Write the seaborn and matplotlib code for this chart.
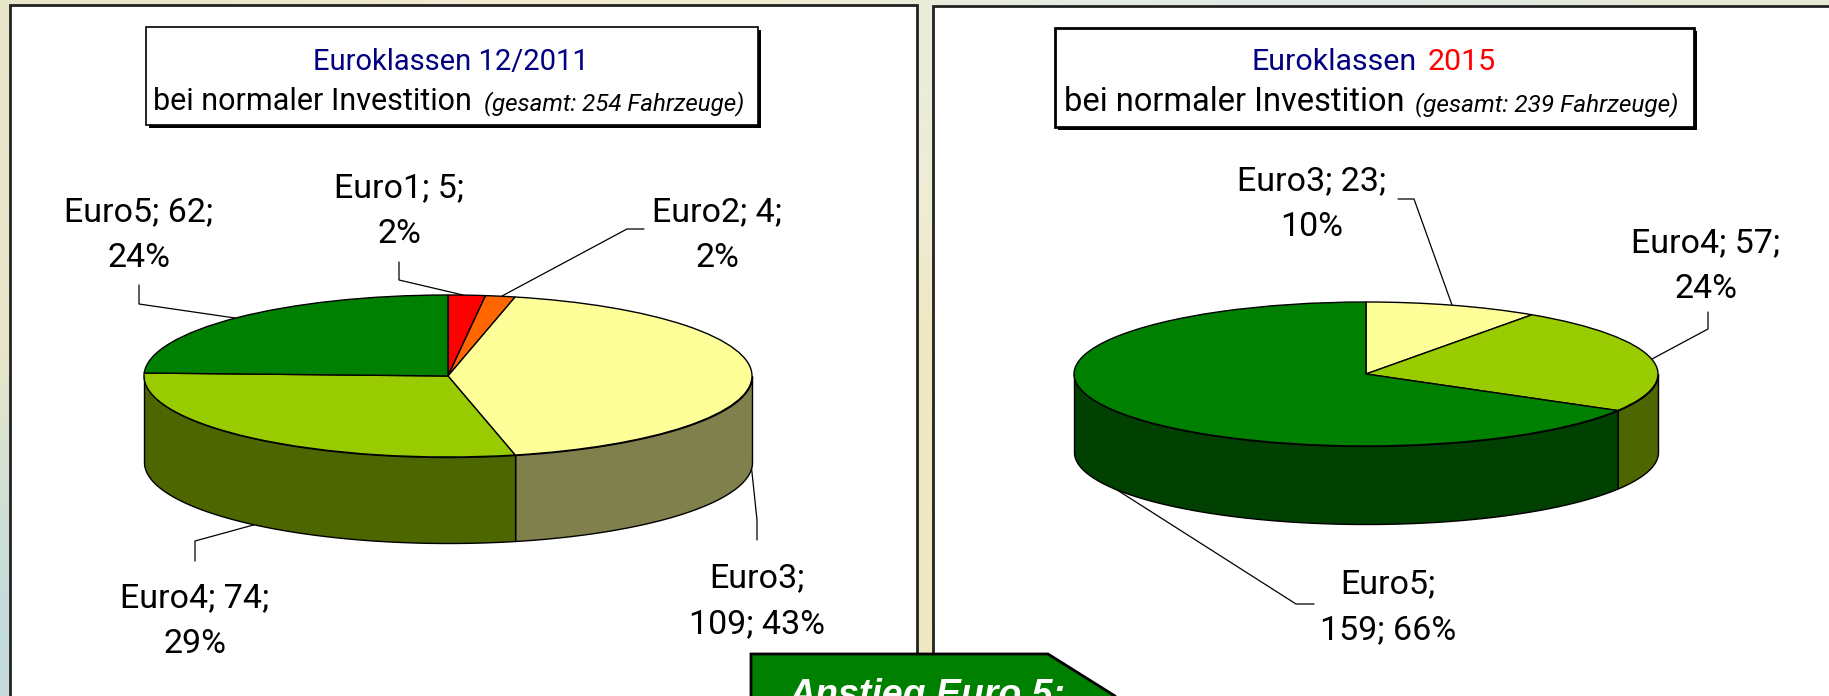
import numpy as np
import matplotlib
matplotlib.use('Agg')
import matplotlib.pyplot as plt
from matplotlib.patches import Rectangle, Polygon
import seaborn as sns

sns.set_theme(style="white")
plt.rcParams['font.family'] = ['Roboto', 'DejaVu Sans']

W, H = 1829, 696

# ---- data ----
names_2011 = ['Euro1', 'Euro2', 'Euro3', 'Euro4', 'Euro5']
values_2011 = [5, 4, 109, 74, 62]
percent_2011 = [2, 2, 43, 29, 24]
colors_2011 = ['#ff0000', '#ff6600', '#ffff99', '#99cc00', '#008000']
sides_2011 = ['#800000', '#803300', '#80804d', '#4d6600', '#004000']

names_2015 = ['Euro3', 'Euro4', 'Euro5']
values_2015 = [23, 57, 159]
percent_2015 = [10, 24, 66]
colors_2015 = ['#ffff99', '#99cc00', '#008000']
sides_2015 = ['#80804d', '#4d6600', '#004000']

# background tint, coarse grid (rows top to bottom, columns left to right)
bg_colors = [
    ['#e8e6c8', '#f2ead2', '#f0ecd0', '#e6ece4', '#dfe8e6', '#e6ead6'],
    ['#e8e6c8', '#f0e8c8', '#f0e8c4', '#eef0e0', '#e8ead8', '#e8e6c8'],
    ['#e8e6c8', '#f0e8c8', '#f0e8c0', '#f0e8c0', '#f0e8c0', '#f0e8c0'],
    ['#d2e0d4', '#f0e8c8', '#f0e8c0', '#f0e8c0', '#f0e8c0', '#f0e8c0'],
    ['#c4dcdc', '#f0e8c8', '#f0e8c0', '#f0e8c0', '#f0e8c0', '#f0e8c0'],
]

fig = plt.figure(figsize=(W / 100, H / 100), dpi=100)

# full figure axes in pixel units for panels, boxes, text and leaders
page = fig.add_axes([0, 0, 1, 1])
page.set_xlim(0, W)
page.set_ylim(H, 0)
page.axis('off')

rgb = np.array([[matplotlib.colors.to_rgb(c) for c in row] for row in bg_colors])
page.imshow(rgb, extent=(0, W, H, 0), aspect='auto', interpolation='bilinear', zorder=0)
page.set_xlim(0, W)
page.set_ylim(H, 0)

# white panels
page.add_patch(Rectangle((10, 5), 907, 700, fc='white', ec='#222222', lw=2, zorder=1))
page.add_patch(Rectangle((933, 6), 920, 700, fc='white', ec='#222222', lw=2, zorder=1))


def title_box(ax, x0, y0, x1, y1, lw):
    ax.add_patch(Rectangle((x0 + 3, y0 + 3), x1 - x0, y1 - y0, fc='black', ec='none', zorder=2))
    ax.add_patch(Rectangle((x0, y0), x1 - x0, y1 - y0, fc='white', ec='black', lw=lw, zorder=3))


def draw_pie(cx, cy, rx, ry, depth_px, values, colors, sides):
    depth = depth_px / ry
    ax = fig.add_axes([(cx - 1.05 * rx) / W, 1 - (cy + (1.05 + depth) * ry) / H,
                       2.1 * rx / W, (2.1 + depth) * ry / H])
    ax.patch.set_alpha(0)
    wedges, _ = ax.pie(values, colors=colors, startangle=90, counterclock=False,
                       wedgeprops=dict(edgecolor='black', linewidth=1, zorder=3))
    for w, side in zip(wedges, sides):
        t = np.radians(np.linspace(w.theta1, w.theta2, 720))
        t = t[np.sin(t) <= 0]
        if len(t) < 2:
            continue
        ax.fill_between(np.cos(t), np.sin(t), np.sin(t) - depth, color=side,
                        edgecolor='black', linewidth=1, zorder=2)
    ax.set_aspect('auto')
    ax.set_xlim(-1.05, 1.05)
    ax.set_ylim(-1.05 - depth, 1.05)
    ax.axis('off')


draw_pie(448, 376, 304, 81, 86, values_2011, colors_2011, sides_2011)
draw_pie(1366, 374, 292, 72, 78, values_2015, colors_2015, sides_2015)

# title boxes
title_box(page, 146, 27, 758, 125, 1.2)
title_box(page, 1055, 28, 1694, 127, 2)

navy = '#000080'
page.text(451, 62, 'Euroklassen 12/2011', color=navy, fontsize=21, ha='center', va='center', zorder=4)
page.text(472, 110, 'bei normaler Investition', color='black', fontsize=22, ha='right', va='baseline', zorder=4)
page.text(484, 110, '(gesamt: 254 Fahrzeuge)', color='black', fontsize=17.4, style='italic', ha='left', va='baseline', zorder=4)

page.text(1417, 62, 'Euroklassen', color=navy, fontsize=21.9, ha='right', va='center', zorder=4)
page.text(1428, 62, '2015', color='red', fontsize=21.9, ha='left', va='center', zorder=4)
page.text(1404, 111, 'bei normaler Investition', color='black', fontsize=23.5, ha='right', va='baseline', zorder=4)
page.text(1415, 111, '(gesamt: 239 Fahrzeuge)', color='black', fontsize=17.6, style='italic', ha='left', va='baseline', zorder=4)

# data labels
label_size = 24.5


def pie_label(x, y, name, val, pct, broken=False):
    txt = f'{name};\n{val}; {pct}%' if broken else f'{name}; {val};\n{pct}%'
    page.text(x, y, txt, fontsize=label_size, ha='center', va='center', color='black',
              linespacing=1.55, zorder=4)


pie_label(139, 235, names_2011[4], values_2011[4], percent_2011[4])
pie_label(399, 211, names_2011[0], values_2011[0], percent_2011[0])
pie_label(717, 235, names_2011[1], values_2011[1], percent_2011[1])
pie_label(757, 601, names_2011[2], values_2011[2], percent_2011[2], broken=True)
pie_label(195, 621, names_2011[3], values_2011[3], percent_2011[3])
pie_label(1312, 204, names_2015[0], values_2015[0], percent_2015[0])
pie_label(1706, 266, names_2015[1], values_2015[1], percent_2015[1])
pie_label(1388, 607, names_2015[2], values_2015[2], percent_2015[2], broken=True)

# leader lines
leaders = [
    [(399, 262), (399, 280), (463, 295)],
    [(644, 229), (627, 229), (502, 296)],
    [(139, 285), (139, 304), (235, 318)],
    [(751, 463), (757, 520), (757, 540)],
    [(257, 524), (195, 541), (195, 561)],
    [(1398, 199), (1414, 199), (1452, 305)],
    [(1708, 312), (1708, 329), (1652, 359)],
    [(1314, 604), (1296, 604), (1114, 488)],
]
for pts in leaders:
    xs, ys = zip(*pts)
    page.plot(xs, ys, color='black', lw=0.9, zorder=5)
page.set_xlim(0, W)
page.set_ylim(H, 0)

# cropped arrow at the bottom
page.add_patch(Polygon([(751, 654), (1048, 654), (1115, 696), (1115, 720), (751, 720)],
                       closed=True, fc='#008000', ec='black', lw=2, zorder=6))
page.text(927, 706, 'Anstieg Euro 5:', color='white', fontsize=27, fontweight='bold', style='italic',
          family='Liberation Sans', ha='center', va='baseline', zorder=7)

# pie axes sit above the page axes, which keeps the white panels behind them
page.set_zorder(0)
page.patch.set_alpha(0)
for a in fig.axes:
    if a is not page:
        a.set_zorder(1)

fig.savefig('out.png', dpi=100)
